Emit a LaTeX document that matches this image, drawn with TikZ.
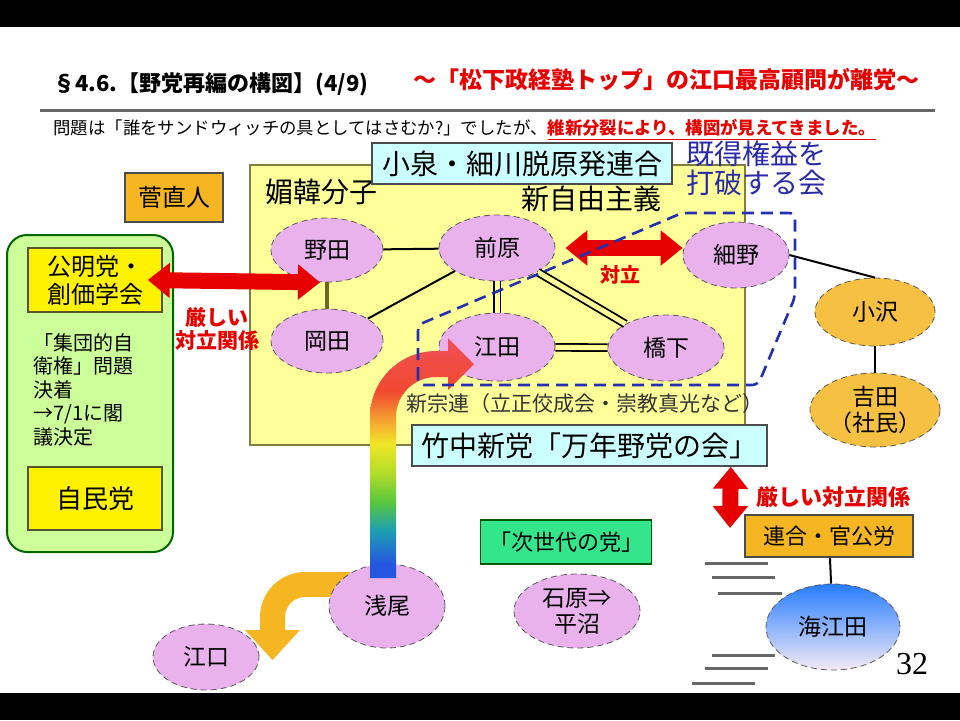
\documentclass[tikz,border=0pt]{standalone}
\usepackage{fontspec}
\setmainfont{Noto Sans CJK JP}
\newfontfamily\pagenumfont{Liberation Serif}
\usepackage{tikz}
\usepackage{xcolor}
\usetikzlibrary{shapes.geometric,arrows.meta}

\definecolor{zoneyellow}{HTML}{FFFF99}
\definecolor{zoneline}{HTML}{7F7F3F}
\definecolor{lightcyan}{HTML}{CCFFFF}
\definecolor{personpink}{HTML}{E9B2EC}
\definecolor{goldorange}{HTML}{F5B622}
\definecolor{palegreen}{HTML}{CCFF99}
\definecolor{partygreen}{HTML}{33E68C}
\definecolor{alertred}{HTML}{E60000}
\definecolor{dashblue}{HTML}{2430B0}
\definecolor{groupblue}{HTML}{2B2BA8}
\definecolor{rbBlue}{HTML}{2456E0}
\definecolor{rbTeal}{HTML}{1EA0B0}
\definecolor{rbGreen}{HTML}{5AC83C}
\definecolor{rbLime}{HTML}{B4DC28}
\definecolor{rbYellow}{HTML}{F0E628}
\definecolor{rbOrange}{HTML}{F5A030}
\definecolor{rbRed}{HTML}{F04830}
\definecolor{rbPink}{HTML}{F05058}

\pgfdeclareverticalshading{rainbow}{100bp}{color(0bp)=(rbBlue); color(28bp)=(rbBlue);
  color(35bp)=(rbTeal); color(41bp)=(rbGreen); color(47bp)=(rbLime); color(53bp)=(rbYellow);
  color(58bp)=(rbOrange); color(64bp)=(rbRed); color(75bp)=(rbPink); color(100bp)=(rbPink)}

\newcommand{\fsz}[2]{\fontsize{#1}{#2}\selectfont}

\tikzset{
  person/.style={ellipse, draw=black!65, densely dashed, fill=personpink, inner sep=0pt,
    align=center, font=\fsz{11.5}{13}},
  labelbox/.style={rectangle, draw=black!70, line width=0.8pt, inner sep=0pt, align=center},
  link/.style={line width=1pt},
  dlink/.style={double=zoneyellow, double distance=2.5pt, line width=0.9pt},
  bigarrow/.style={alertred, line width=8pt,
    {Triangle[length=11pt,width=17pt]}-{Triangle[length=11pt,width=17pt]}},
  redtext/.style={text=alertred, font=\bfseries\fsz{10.5}{11.5}, align=center},
}

\begin{document}
\begin{tikzpicture}[x=0.5pt,y=-0.5pt]
  \useasboundingbox (0,0) rectangle (960,720);
  \fill[white] (0,0) rectangle (960,720);
  \fill[black] (0,0) rectangle (960,27);
  \fill[black] (0,693) rectangle (960,720);

  % heading
  \node[anchor=west, inner sep=0pt, font=\bfseries\fsz{11}{12}] (Title) at (53,84) {§4.6.【野党再編の構図】(4/9)};
  \node[anchor=east, text=alertred, font=\bfseries\fsz{11.5}{13}] (Head) at (927,80)
    {〜「松下政経塾トップ」の江口最高顧問が離党〜};
  \draw[black!60, line width=1.5pt] (40,110) -- (935,110);
  \node[anchor=west, inner sep=0pt, font=\fsz{8.7}{10}] (Sub) at (53,130)
    {問題は「誰をサンドウィッチの具としてはさむか?」でしたが、{\color{alertred}\bfseries\underline{維新分裂により、構図が見えてきました。}}};

  % opposition zone
  \node[fill=zoneyellow, draw=zoneline, line width=1pt, minimum width=247.5pt,
    minimum height=140pt, inner sep=0pt] (Zone) at (497.5,305) {};
  \node[font=\fsz{14}{16}] (Bikan) at (321,192) {媚韓分子};
  \node[font=\fsz{14}{16}] (Neolib) at (591,199) {新自由主義};
  \node[labelbox, fill=lightcyan, minimum width=150pt, minimum height=20.5pt,
    font=\fsz{14}{16}] (Koizumi) at (522,163.5) {小泉・細川脱原発連合};
  \node[text=groupblue, font=\fsz{14}{14.5}, align=center] (Kitoku) at (756,168) {既得権益を\\打破する会};

  % ruling side
  \node[labelbox, fill=goldorange, minimum width=49pt, minimum height=24.5pt,
    font=\fsz{12}{14}] (Kan) at (174,197.5) {菅直人};
  \node[draw=green!40!black, fill=palegreen, line width=1pt, rounded corners=10pt,
    minimum width=83pt, minimum height=158.5pt] (Bloc) at (90,393.5) {};
  \node[labelbox, fill=yellow, draw=olive!50!black, minimum width=67pt, minimum height=32pt,
    font=\fsz{12}{14}] (Komei) at (95,280) {公明党・\\創価学会};
  \node[anchor=north west, align=left, inner sep=0pt, font=\fsz{10}{11.75}] (Issue) at (33,333)
    {「集団的自\\衛権」問題\\決着\\→7/1に閣\\議決定};
  \node[labelbox, fill=yellow, draw=olive!50!black, minimum width=67pt, minimum height=31.5pt,
    font=\fsz{13}{15}] (LDP) at (95,498.5) {自民党};
  \node[redtext] (Clash) at (217,329) {厳しい\\対立関係};

  % people
  \node[person, minimum width=56pt, minimum height=32pt] (Noda) at (327,250) {野田};
  \node[person, minimum width=58pt, minimum height=33pt] (Maehara) at (497,248) {前原};
  \node[person, minimum width=56pt, minimum height=32pt] (Okada) at (327,341) {岡田};
  \node[person, minimum width=58pt, minimum height=34pt] (Eda) at (497,347) {江田};
  \node[person, minimum width=58pt, minimum height=33pt] (Hashimoto) at (666,348) {橋下};
  \node[person, minimum width=53pt, minimum height=33pt] (Hosono) at (736,255) {細野};
  \node[person, fill=goldorange!85, minimum width=60pt, minimum height=34pt] (Ozawa) at (875,312) {小沢};
  \node[person, fill=goldorange!85, minimum width=60pt, minimum height=37pt] (Yoshida) at (875,410) {吉田\\（社民）};

  \draw[link] (Noda) -- (Maehara);
  \draw[link, olive!70!black, line width=2pt] (Noda) -- (Okada);
  \draw[link] (Okada) -- (Maehara);
  \draw[dlink] (Maehara) -- (Eda);
  \draw[dlink] (Maehara) -- (Hashimoto);
  \draw[dlink] (Eda) -- (Hashimoto);
  \draw[link] (Hosono.east) -- (Ozawa.north);
  \draw[link] (Ozawa) -- (Yoshida);

  \node[text=black!80, font=\fsz{10.5}{12}] (Shinshuren) at (585,404) {新宗連（立正佼成会・崇教真光など）};
  \node[labelbox, fill=lightcyan, minimum width=177.5pt, minimum height=20.5pt,
    font=\fsz{14}{16}] (Takenaka) at (589.5,445.5) {竹中新党「万年野党の会」};

  % union side
  \node[redtext, font=\bfseries\fsz{11}{12}] (Clash2) at (833,497) {厳しい対立関係};
  \node[labelbox, fill=goldorange, minimum width=84pt, minimum height=21pt,
    font=\fsz{11}{13}] (Rengo) at (829,536) {連合・官公労};
  \foreach \xa/\xb/\yy in {705/768/563, 712/775/577, 718/782/593, 712/775/655, 705/768/668, 692/755/683}
    \draw[black!60, line width=1.5pt] (\xa,\yy) -- (\xb,\yy);
  \node[person, top color=blue!60!cyan!85, bottom color=violet!8, minimum width=67pt,
    minimum height=43pt] (Kaieda) at (833,627) {海江田};
  \draw[link] (Rengo) -- (Kaieda);
  \node[font=\pagenumfont\fsz{16}{18}] (Page) at (912,664) {32};

  % lower parties
  \node[labelbox, fill=partygreen, draw=green!35!black, minimum width=85.5pt, minimum height=22pt,
    font=\fsz{11}{13}] (Jisedai) at (566,542) {「次世代の党」};
  \node[person, minimum width=63pt, minimum height=37pt] (Ishihara) at (577,611) {石原⇒\\平沼};
  \fill[goldorange] (350,572) -- (305,572) arc[start angle=270, end angle=180, radius=45]
    -- (260,630) -- (245,630) -- (272.5,660) -- (300,630) -- (285,630) -- (285,617)
    arc[start angle=180, end angle=270, radius=20] -- (350,597) -- cycle;
  \node[person, minimum width=58pt, minimum height=42pt] (Asao) at (387,606) {浅尾};
  \node[person, minimum width=53pt, minimum height=33pt] (Eguchi) at (206,657) {江口};
  \shade[shading=rainbow] (370,578) -- (370,417) arc[start angle=180, end angle=270, radius=66]
    -- (448,351) -- (448,338) -- (474,364) -- (448,390) -- (448,377) -- (436,377)
    arc[start angle=270, end angle=180, radius=40] -- (396,578) -- cycle;

  % conflicts
  \draw[bigarrow] ([xshift=-7.5pt]Komei.east) -- ([xshift=-3.5pt]Noda.south);
  \draw[bigarrow] ([xshift=5pt]Maehara.east) -- (Maehara.east -| Hosono.west);
  \node[redtext, font=\bfseries\fsz{10}{11}] (Taiji) at (620,275) {対立};
  \coordinate (RengoTip) at (730,528);
  \draw[bigarrow] ([xshift=-18.5pt]Takenaka.south east) -- (RengoTip);

  \draw[dashblue, line width=1.3pt, dash pattern=on 6pt off 3.5pt, rounded corners=3pt]
    (418,385) -- (418,325) -- (682,213) -- (795,213) -- (795,297) -- (758,385) -- cycle;
\end{tikzpicture}
\end{document}
